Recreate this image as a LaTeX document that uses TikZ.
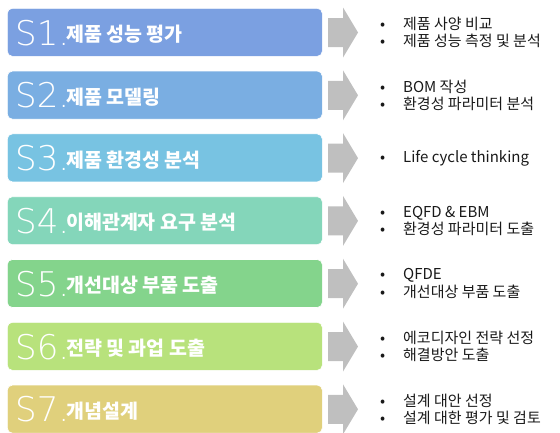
\documentclass[tikz,border=0pt]{standalone}
\usepackage{fontspec}
\newfontfamily\cjk{Noto Sans CJK KR}
\newfontfamily\thinfont{DejaVu Sans ExtraLight}
\definecolor{c1}{HTML}{7BA0E1}
\definecolor{c2}{HTML}{7AAEE2}
\definecolor{c3}{HTML}{78C3E2}
\definecolor{c4}{HTML}{84D6BA}
\definecolor{c5}{HTML}{84D48C}
\definecolor{c6}{HTML}{B8E27C}
\definecolor{c7}{HTML}{E0D07C}
\definecolor{arrowgray}{HTML}{BFBFBF}
\newcommand\bulitem{\makebox[23pt][l]{•}}
\begin{document}
\begin{tikzpicture}[x=1pt,y=-1pt,
  stepbox/.style={rounded corners=5pt, minimum width=315pt, minimum height=48pt, anchor=north west, inner sep=0pt, draw=white, line width=0.6pt},
  snum/.style={anchor=base west, text=white, font=\thinfont\fontsize{34}{34}\selectfont, inner sep=0pt},
  stitle/.style={anchor=base west, text=white, font=\cjk\bfseries\fontsize{19.5}{21}\selectfont, inner sep=0pt},
  garrow/.style={fill=arrowgray},
  items/.style={anchor=west, align=left, font=\cjk\fontsize{15}{17.5}\selectfont, inner sep=0pt, text=black!90}
]
\path[use as bounding box] (0,0) rectangle (560,432);
\foreach \i/\col/\title in {1/c1/제품 성능 평가, 2/c2/제품 모델링, 3/c3/제품 환경성 분석, 4/c4/이해관계자 요구 분석, 5/c5/개선대상 부품 도출, 6/c6/전략 및 과업 도출, 7/c7/개념설계}{
  \pgfmathsetmacro\t{8+62.8*(\i-1)}
  \pgfmathsetmacro\m{\t+24.5}
  \node[stepbox, fill=\col] (b\i) at (7,\t) {};
  \node[snum] (n\i) at (15,\t+37) {S\i.};
  \node[stitle] (t\i) at (66,\t+33.5) {\title};
  \coordinate (a\i) at (328,\m);
  \fill[garrow] (a\i) ++(0,-14.5) -- ++(15,0) -- ++(0,-10.5) -- ++(15,25) -- ++(-15,25) -- ++(0,-10.5) -- ++(-15,0) -- cycle;
}
\node[items] (l1) at (380,32.5) {\bulitem 제품 사양 비교\\\bulitem 제품 성능 측정 및 분석};
\node[items] (l2) at (380,95.3) {\bulitem BOM 작성\\\bulitem 환경성 파라미터 분석};
\node[items] (l3) at (380,158.1) {\bulitem Life cycle thinking};
\node[items] (l4) at (380,220.9) {\bulitem EQFD \& EBM\\\bulitem 환경성 파라미터 도출};
\node[items] (l5) at (380,283.7) {\bulitem QFDE\\\bulitem 개선대상 부품 도출};
\node[items] (l6) at (380,346.5) {\bulitem 에코디자인 전략 선정\\\bulitem 해결방안 도출};
\node[items] (l7) at (380,409.3) {\bulitem 설계 대안 선정\\\bulitem 설계 대한 평가 및 검토};
\end{tikzpicture}
\end{document}
